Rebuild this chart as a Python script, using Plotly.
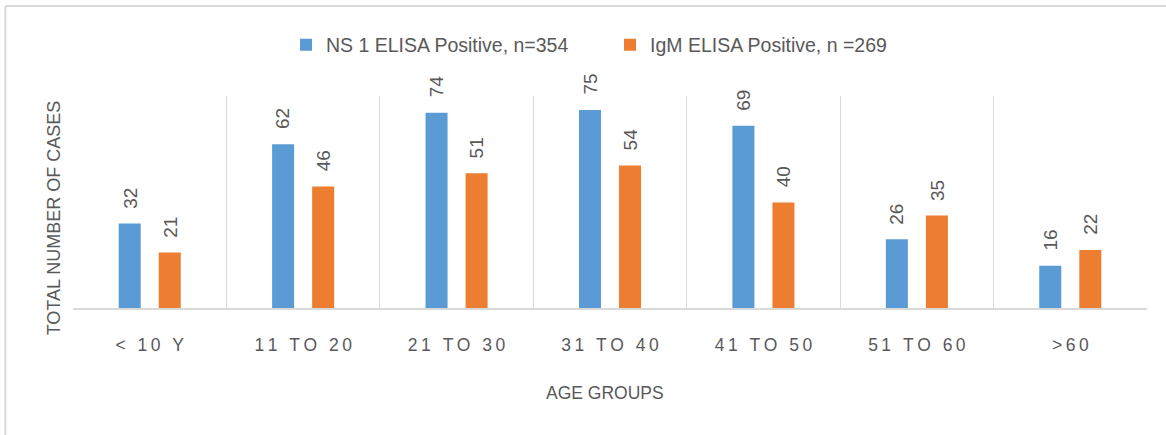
import plotly.graph_objects as go

# Age groups and case counts per ELISA test
age_groups = ["< 10 Y", "11 TO 20", "21 TO 30", "31 TO 40", "41 TO 50", "51 TO 60", ">60"]
ns1_positive = [32, 62, 74, 75, 69, 26, 16]
igm_positive = [21, 46, 51, 54, 40, 35, 22]
series_names = ["NS 1 ELISA Positive, n=354", "IgM ELISA Positive, n =269"]

BLUE = "#5B9BD5"
ORANGE = "#ED7D31"
TEXT = "#595959"
GRID = "#D9D9D9"
FONT = "Liberation Sans, Arial, sans-serif"


def spaced(label):
    # widen the tick labels by putting a thin space between characters
    return "\u2009".join(label)


fig = go.Figure()
fig.add_bar(name=series_names[0], x=age_groups, y=ns1_positive,
            marker=dict(color=BLUE, line=dict(width=0)))
fig.add_bar(name=series_names[1], x=age_groups, y=igm_positive,
            marker=dict(color=ORANGE, line=dict(width=0)))

# rotated value labels above each bar
for vals, shift in ((ns1_positive, -20), (igm_positive, 20)):
    for cat, v in zip(age_groups, vals):
        fig.add_annotation(x=cat, y=v, xref="x", yref="y", text=str(v),
                           textangle=-90, showarrow=False, xshift=shift,
                           yanchor="bottom", yshift=13,
                           font=dict(family=FONT, size=19, color=TEXT))

# axis titles
fig.add_annotation(x=0.4953, y=-0.401, xref="paper", yref="paper", text="AGE GROUPS",
                   showarrow=False, xanchor="center", yanchor="middle",
                   font=dict(family=FONT, size=17.5, color=TEXT))
fig.add_annotation(x=-0.0182, y=0.425, xref="paper", yref="paper",
                   text="TOTAL NUMBER OF CASES", textangle=-90,
                   showarrow=False, xanchor="center", yanchor="middle",
                   font=dict(family=FONT, size=18, color=TEXT))

# outer frame (top and left edges)
fig.add_shape(type="line", xref="paper", yref="paper", x0=-0.063, x1=1.1,
              y0=1.4245, y1=1.4245, line=dict(color=GRID, width=2))
fig.add_shape(type="line", xref="paper", yref="paper", x0=-0.063, x1=-0.063,
              y0=-0.7, y1=1.4245, line=dict(color=GRID, width=2))

fig.update_layout(
    width=1166, height=435,
    margin=dict(l=73, r=19, t=96, b=127, autoexpand=False),
    paper_bgcolor="white", plot_bgcolor="white",
    barmode="group", bargap=0.478, bargroupgap=0.45,
    font=dict(family=FONT, size=17, color=TEXT),
    showlegend=True,
    legend=dict(orientation="h", x=0.5, xanchor="center", y=1.2406, yanchor="middle",
                font=dict(family=FONT, size=19.5, color=TEXT),
                entrywidth=279, entrywidthmode="pixels"),
    xaxis=dict(tickson="boundaries", showgrid=True, gridcolor=GRID, gridwidth=1,
               showline=True, linecolor=GRID, linewidth=1.5, ticks="",
               tickvals=age_groups, ticktext=[spaced(c) for c in age_groups],
               tickfont=dict(family=FONT, size=17.5, color=TEXT), ticklabelstandoff=20),
    yaxis=dict(range=[0, 80.3], showgrid=False, showticklabels=False, zeroline=False,
               showline=False, ticks=""),
)

fig.write_html("out.html")
